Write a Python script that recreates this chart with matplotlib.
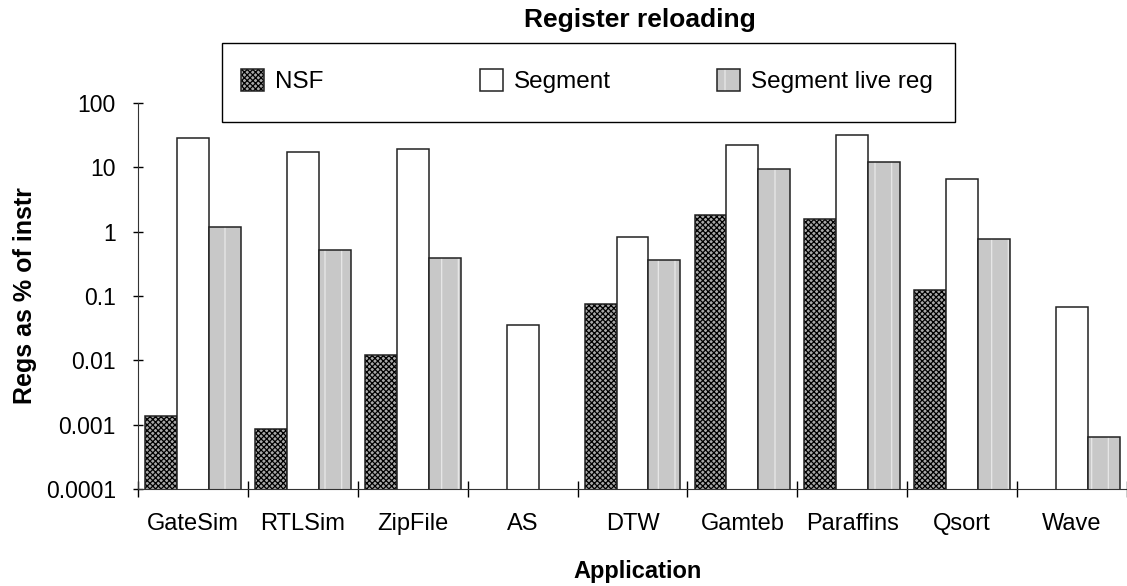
import numpy as np
import matplotlib
matplotlib.use('Agg')
import matplotlib.pyplot as plt
from matplotlib.patches import Rectangle

plt.rcParams['font.family'] = ['Liberation Sans', 'DejaVu Sans']
plt.rcParams['hatch.linewidth'] = 0.9

# datos (escala log, % de instrucciones)
apps = ['GateSim', 'RTLSim', 'ZipFile', 'AS', 'DTW', 'Gamteb', 'Paraffins', 'Qsort', 'Wave']
nsf = [0.00135, 0.00085, 0.012, np.nan, 0.075, 1.8, 1.6, 0.125, np.nan]
segment = [29, 17.5, 19.5, 0.036, 0.82, 22, 32, 6.5, 0.067]
live_reg = [1.2, 0.52, 0.39, np.nan, 0.36, 9.5, 12, 0.78, 0.00065]

nombres = ['NSF', 'Segment', 'Segment live reg']
# relleno de cada serie (la trama va sin borde; el contorno se dibuja aparte)
rellenos = [dict(facecolor='#a8a8a8', hatch='xxxxxx', edgecolor='black'),
            dict(facecolor='white', edgecolor='white'),
            dict(facecolor='#c8c8c8', hatch='|', edgecolor='#e8e8e8')]

W, H = 1127, 586
fig = plt.figure(figsize=(W / 100, H / 100), dpi=100)
ax = fig.add_axes([138 / W, 1 - 489 / H, 989 / W, 386 / H])

x = np.arange(len(apps))
w = 0.29
handles = []
for k, vals in enumerate([nsf, segment, live_reg]):
    pos = x + (k - 1) * w
    relleno = ax.bar(pos, vals, width=w, linewidth=0, **rellenos[k])
    contorno = ax.bar(pos, vals, width=w, fill=False, edgecolor='#222222', linewidth=1.1)
    handles.append((relleno, contorno))

ax.set_yscale('log')
ax.set_ylim(1e-4, 100)
ax.set_xlim(-0.5, len(apps) - 0.5)
ax.set_yticks([1e-4, 1e-3, 1e-2, 0.1, 1, 10, 100])
ax.set_yticklabels(['0.0001', '0.001', '0.01', '0.1', '1', '10', '100'])
ax.yaxis.set_minor_locator(matplotlib.ticker.NullLocator())

# separadores entre categorias y etiquetas centradas
ax.set_xticks(np.arange(len(apps) + 1) - 0.5)
ax.set_xticklabels([])
ax.set_xticks(x, minor=True)
ax.set_xticklabels(apps, minor=True)
ax.tick_params(axis='x', which='major', direction='inout', length=12, width=1)
ax.tick_params(axis='x', which='minor', length=0, pad=17, labelsize=17)
ax.tick_params(axis='y', direction='inout', length=7, width=1, labelsize=16.5, pad=12.5)

ax.spines['top'].set_visible(False)
ax.spines['right'].set_visible(False)
ax.spines['left'].set_color('#333333')
ax.spines['bottom'].set_color('#333333')

ax.set_ylabel('Regs as % of instr', fontsize=18, fontweight='bold')
ax.yaxis.set_label_coords(-0.102, 0.5)
ax.set_xlabel('Application', fontsize=17, fontweight='bold')
ax.xaxis.set_label_coords(0.505, -0.184)
fig.suptitle('Register reloading', fontsize=19, fontweight='bold', x=640 / W, y=1 - 8 / H, va='top')

# leyenda: marco y tres entradas
fig.add_artist(Rectangle((222 / W, 1 - 122 / H), 733 / W, 79 / H, transform=fig.transFigure,
                         fill=False, edgecolor='black', linewidth=1.0))
for h, nombre, xh in zip(handles, nombres, [241, 480, 717]):
    fig.legend(handles=[h], labels=[nombre], loc='center left',
               bbox_to_anchor=(xh / W, 1 - 81 / H), frameon=False,
               borderpad=0, borderaxespad=0, fontsize=17.5,
               handlelength=0.94, handleheight=1.0, handletextpad=0.45)

fig.savefig('out.png', dpi=100)
